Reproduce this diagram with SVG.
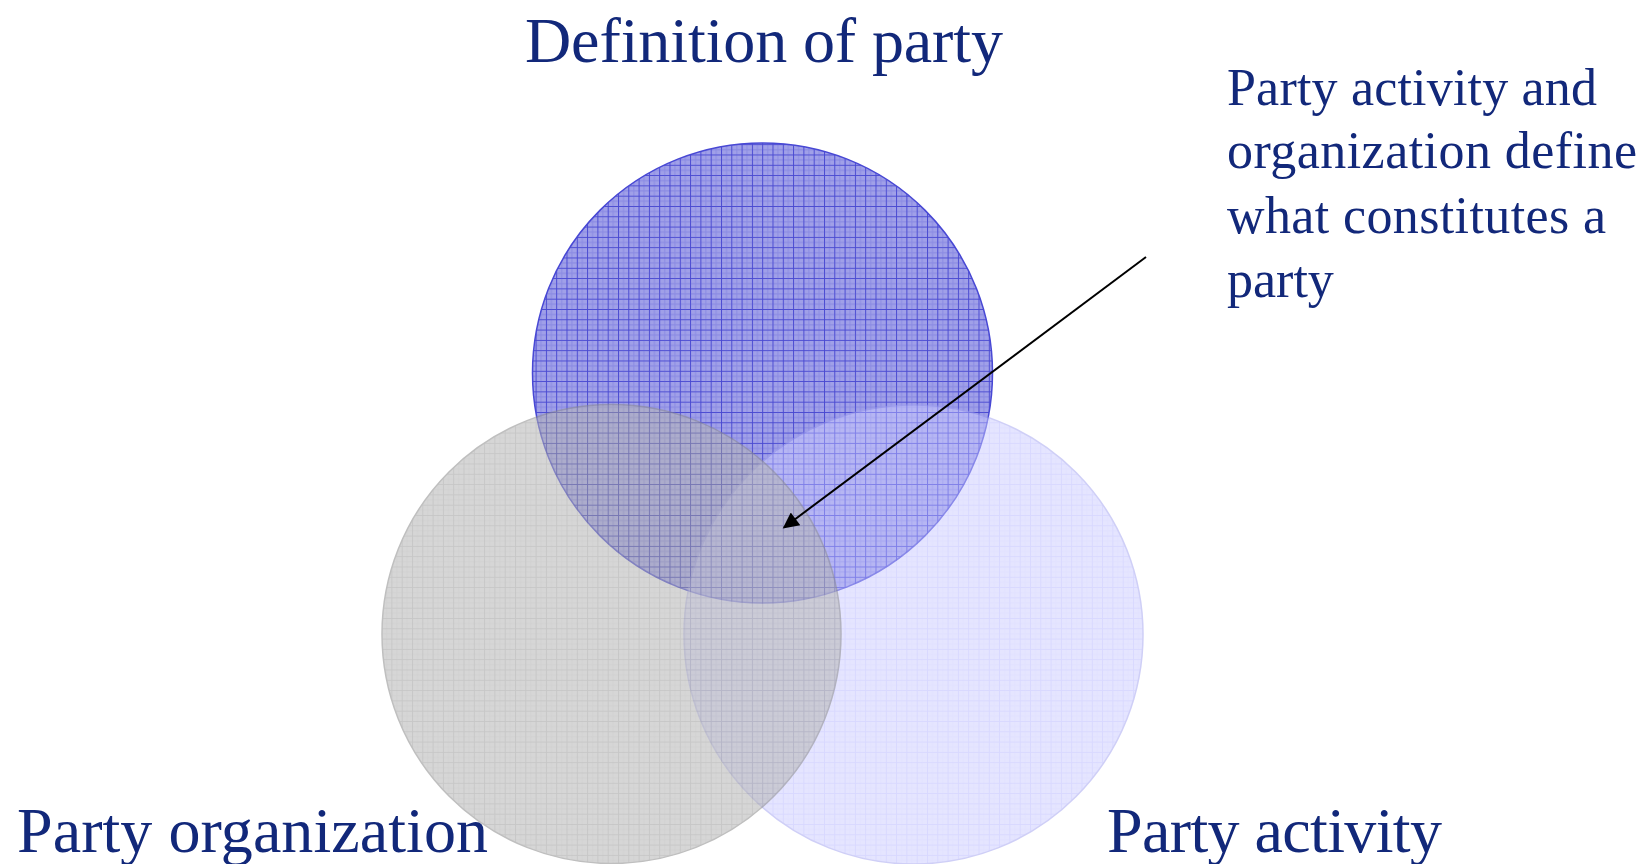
<svg xmlns="http://www.w3.org/2000/svg" width="1644" height="864" viewBox="0 0 1644 864">
  <style>
    .lbl { font-family: "Liberation Serif", "Times New Roman", serif; fill: #12287a; }
    .big { font-size: 64px; }
    .note { font-size: 52px; }
    .conn { stroke: #000; stroke-width: 2; fill: none; }
  </style>
  <defs>
    <pattern id="gBlue" patternUnits="userSpaceOnUse" width="10.3" height="10.3">
      <path d="M0 0.5 H10.3 M0.5 0 V10.3" stroke="#3434cc" stroke-width="1" opacity="0.8"/>
      <path d="M0 5.5 H10.3 M5.5 0 V10.3" stroke="#5a5ad8" stroke-width="1" opacity="0.3"/>
    </pattern>
    <pattern id="gGray" patternUnits="userSpaceOnUse" width="10.3" height="10.3">
      <path d="M0 0.5 H10.3 M0.5 0 V10.3" stroke="#888888" stroke-width="1" opacity="0.6"/>
      <path d="M0 5.5 H10.3 M5.5 0 V10.3" stroke="#9a9a9a" stroke-width="1" opacity="0.3"/>
    </pattern>
    <pattern id="gLight" patternUnits="userSpaceOnUse" width="10.3" height="10.3">
      <path d="M0 0.5 H10.3 M0.5 0 V10.3" stroke="#a8a8ff" stroke-width="1" opacity="0.7"/>
      <path d="M0 5.5 H10.3 M5.5 0 V10.3" stroke="#b8b8ff" stroke-width="1" opacity="0.35"/>
    </pattern>
    <marker id="arrow" viewBox="0 0 10 10" refX="9" refY="5" markerWidth="9" markerHeight="8" markerUnits="strokeWidth" orient="auto">
      <path d="M0 0 L10 5 L0 10 z" fill="#000"/>
    </marker>
  </defs>
  <rect width="1644" height="864" fill="#fff"/>

  <g id="node-definition">
    <circle cx="762.5" cy="373" r="230" fill="#a0a0e8"/>
    <circle cx="762.5" cy="373" r="230" fill="url(#gBlue)" stroke="#4848d4" stroke-width="1.5"/>
    <text class="lbl big" x="525" y="62" textLength="478">Definition of party</text>
  </g>

  <g id="node-activity">
    <g opacity="0.5">
      <circle cx="913.5" cy="634.5" r="229.5" fill="#cdcdff"/>
      <circle cx="913.5" cy="634.5" r="229.5" fill="url(#gLight)" stroke="#a0a0f0" stroke-width="1.5"/>
    </g>
    <text class="lbl big" x="1107" y="852" textLength="335">Party activity</text>
  </g>

  <g id="node-organization">
    <g opacity="0.55">
      <circle cx="611.5" cy="634" r="229.5" fill="#b6b6b6"/>
      <circle cx="611.5" cy="634" r="229.5" fill="url(#gGray)" stroke="#8c8c8c" stroke-width="1.5"/>
    </g>
    <text class="lbl big" x="17" y="852" textLength="471">Party organization</text>
  </g>

  <g id="node-note">
    <text class="lbl note" x="1227" y="105" textLength="370">Party activity and</text>
    <text class="lbl note" x="1227" y="168" textLength="410">organization define</text>
    <text class="lbl note" x="1227" y="233" textLength="379">what constitutes a</text>
    <text class="lbl note" x="1227" y="297">party</text>
  </g>

  <g id="connectors">
    <line class="conn" x1="1146" y1="257" x2="784" y2="527.5" marker-end="url(#arrow)"/>
  </g>
</svg>
